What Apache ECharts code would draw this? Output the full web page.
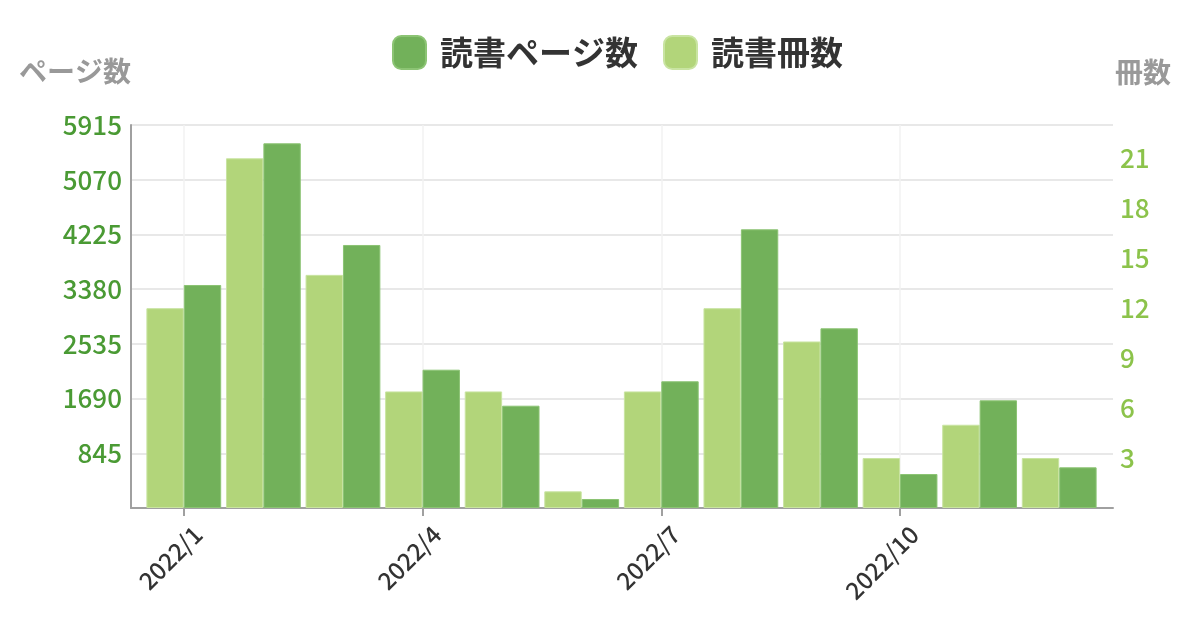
<!DOCTYPE html>
<html>
<head>
<meta charset="utf-8">
<script src="https://cdn.jsdelivr.net/npm/echarts@6/dist/echarts.min.js"></script>
<style>html,body{margin:0;padding:0;background:#fff}#c{width:1200px;height:617px}</style>
</head>
<body>
<div id="c"></div>
<script>
const months = ['2022/1','2022/2','2022/3','2022/4','2022/5','2022/6','2022/7','2022/8','2022/9','2022/10','2022/11','2022/12'];
const pages = [3444, 5632, 4062, 2136, 1580, 139, 1957, 4304, 2775, 525, 1663, 628];
const books = [12, 21, 14, 7, 7, 1, 7, 12, 10, 3, 5, 3];
const pageAxisMax = 5915;
const pageAxisStep = 845;
const bookAxisMax = 23;
const bookAxisStep = 3;

const FONT = '"Noto Sans CJK JP", "Noto Sans", sans-serif';
const chart = echarts.init(document.getElementById('c'), null, {renderer: 'canvas'});
const gridTop = 125, gridBottom = 109;
chart.setOption({
  animation: false,
  textStyle: {fontFamily: FONT},
  legend: {
    data: ['読書ページ数', '読書冊数'],
    left: 387, top: 30,
    icon: 'roundRect',
    itemWidth: 33, itemHeight: 33, itemGap: 25,
    textStyle: {fontSize: 33, fontWeight: 'bold', color: '#333', fontFamily: FONT, padding: [0, 0, 0, 9]}
  },
  grid: [
    {left: 131, right: 87, top: gridTop, bottom: gridBottom},
    {left: 144, right: 101, top: gridTop, bottom: gridBottom}
  ],
  xAxis: [
    {gridIndex: 0, type: 'category', data: months,
     axisLine: {show: true, lineStyle: {color: '#a0a0a0', width: 2}},
     axisTick: {show: false}, axisLabel: {show: false}, splitLine: {show: false}},
    {gridIndex: 1, type: 'category', data: months,
     axisLine: {show: false},
     axisTick: {show: true, alignWithLabel: true, interval: 2, length: 8, lineStyle: {color: '#a0a0a0', width: 2}},
     axisLabel: {show: true, interval: 2, rotate: 45, fontSize: 24, fontWeight: 500, color: '#333', fontFamily: FONT,
                 margin: 8, verticalAlign: 'top', padding: [8, 0, 0, 0]},
     splitLine: {show: true, interval: 2, alignWithLabel: true, lineStyle: {color: '#f2f2f2', width: 1.5}}}
  ],
  yAxis: [
    {gridIndex: 0, type: 'value', min: 0, max: pageAxisMax, interval: pageAxisStep, position: 'left',
     name: 'ページ数', nameLocation: 'end', nameGap: 54,
     nameTextStyle: {fontSize: 28, fontWeight: 'bold', color: '#999', align: 'right', verticalAlign: 'middle', fontFamily: FONT},
     axisLine: {show: true, lineStyle: {color: '#a0a0a0', width: 2}},
     axisTick: {show: false},
     axisLabel: {show: true, showMinLabel: false, fontSize: 26, fontWeight: 500, color: '#4a9a34', margin: 9, fontFamily: FONT,
                 formatter: v => String(v)},
     splitLine: {show: true, lineStyle: {color: '#e8e8e8', width: 2}}},
    {gridIndex: 1, type: 'value', min: 0, max: pageAxisMax, interval: pageAxisStep, show: false},
    {gridIndex: 1, type: 'value', min: 0, max: bookAxisMax, interval: bookAxisStep, position: 'right', offset: 13,
     name: '冊数', nameLocation: 'end', nameGap: 53,
     nameTextStyle: {fontSize: 28, fontWeight: 'bold', color: '#999', align: 'left', verticalAlign: 'middle', padding: [0, 0, 0, 3], fontFamily: FONT},
     axisLine: {show: false}, axisTick: {show: false},
     axisLabel: {show: true, showMinLabel: false, showMaxLabel: false, fontSize: 26, fontWeight: 500, color: '#8cc34b', margin: 8, fontFamily: FONT},
     splitLine: {show: false}}
  ],
  series: [
    {name: '読書冊数', type: 'bar', xAxisIndex: 1, yAxisIndex: 2, data: books,
     barGap: '0%', barCategoryGap: '6%',
     itemStyle: {color: '#b2d57a', borderColor: '#c9e4a2', borderWidth: 1}},
    {name: '読書ページ数', type: 'bar', xAxisIndex: 1, yAxisIndex: 1, data: pages,
     barGap: '0%', barCategoryGap: '6%',
     itemStyle: {color: '#72b15a', borderColor: '#8cc474', borderWidth: 1}}
  ]
});
</script>
</body>
</html>
